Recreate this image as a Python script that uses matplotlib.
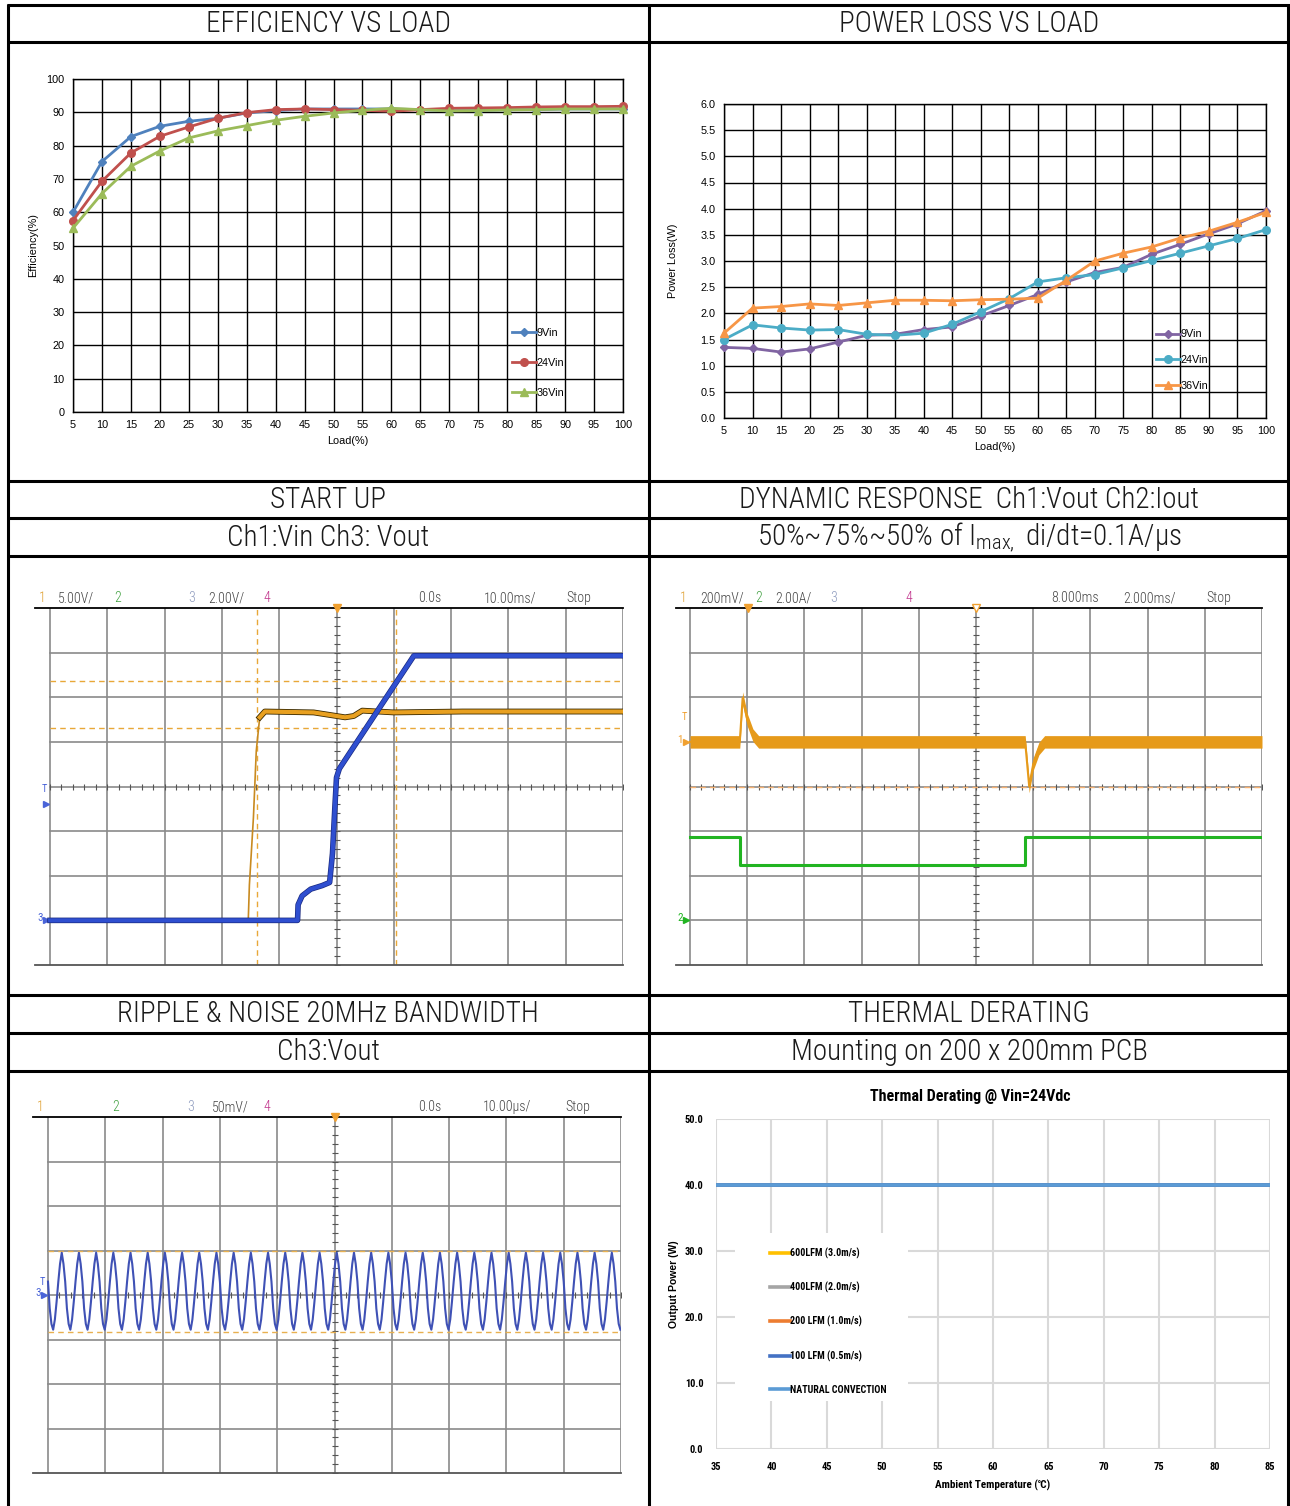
import numpy as np
import matplotlib
matplotlib.use("Agg")
import matplotlib.pyplot as plt
import matplotlib.patheffects as pe
from matplotlib.patches import Rectangle
from matplotlib import font_manager as fm

# ── fonts ─────────────────────────────────────────────────────────
_names = {f.name for f in fm.fontManager.ttflist}
NARROW = next((n for n in ["Roboto Condensed", "Liberation Sans Narrow",
                           "Open Sans Condensed", "DejaVu Sans"] if n in _names))
SANS = "Liberation Sans" if "Liberation Sans" in _names else "DejaVu Sans"
plt.rcParams["font.family"] = [SANS, "DejaVu Sans"]

# ── data: efficiency / power loss ─────────────────────────────────
LOAD = [5, 10, 15, 20, 25, 30, 35, 40, 45, 50, 55, 60, 65, 70, 75, 80, 85, 90, 95, 100]
EFF_9V = [60.0, 75.2, 82.7, 85.8, 87.3, 88.2, 89.8, 90.5, 91.0, 91.0,
          91.0, 91.0, 90.8, 90.5, 90.5, 90.8, 90.8, 91.0, 91.0, 91.0]
EFF_24V = [57.5, 69.3, 77.8, 82.8, 85.6, 88.2, 89.9, 90.8, 91.0, 90.8,
           90.6, 90.3, 90.8, 91.2, 91.3, 91.4, 91.6, 91.7, 91.7, 91.8]
EFF_36V = [55.2, 65.6, 73.8, 78.4, 82.3, 84.4, 86.0, 87.6, 88.8, 89.8,
           90.6, 91.2, 90.8, 90.4, 90.5, 90.7, 90.8, 91.0, 91.0, 91.0]
LOSS_9V = [1.35, 1.33, 1.26, 1.32, 1.45, 1.58, 1.60, 1.69, 1.74, 1.95,
           2.15, 2.36, 2.60, 2.78, 2.88, 3.13, 3.32, 3.52, 3.71, 3.96]
LOSS_24V = [1.50, 1.78, 1.72, 1.68, 1.69, 1.60, 1.58, 1.62, 1.79, 2.03,
            2.28, 2.60, 2.68, 2.74, 2.87, 3.01, 3.15, 3.29, 3.43, 3.60]
LOSS_36V = [1.62, 2.10, 2.13, 2.18, 2.15, 2.20, 2.25, 2.25, 2.24, 2.26,
            2.27, 2.29, 2.63, 3.00, 3.15, 3.27, 3.44, 3.57, 3.74, 3.93]

# ── data: scope traces (in screen divisions) ──────────────────────
VIN_X = [3.46, 3.48, 3.55, 3.60, 3.66, 3.75, 4.60, 5.00, 5.15, 5.30, 5.45, 6.00, 7.20, 10.0]
VIN_Y = [1.00, 1.80, 3.30, 4.80, 5.55, 5.68, 5.66, 5.58, 5.55, 5.58, 5.70, 5.66, 5.68, 5.68]
VOUT_X = [0.0, 4.32, 4.33, 4.40, 4.55, 4.75, 4.88, 4.93, 4.97, 5.00, 5.05, 6.35, 10.0]
VOUT_Y = [1.0, 1.00, 1.35, 1.55, 1.70, 1.78, 1.85, 2.50, 3.50, 4.20, 4.40, 6.93, 6.93]
SU_CURSOR_X = [3.62, 6.04]
SU_CURSOR_Y = [6.37, 5.31]

DYN_V_X = [0.0, 0.87, 0.92, 1.00, 1.10, 1.20, 5.86, 5.93, 6.00, 6.10, 6.20, 10.0]
DYN_V_Y = [5.0, 5.00, 5.98, 5.50, 5.15, 5.00, 5.00, 4.00, 4.50, 4.85, 5.00, 5.00]
DYN_I_X = [0.0, 0.87, 5.86, 10.0]
DYN_I_Y = [2.86, 2.23, 2.86, 2.86]
DYN_CURSOR_Y = [3.98]

RIPPLE_CYCLE = [0.30, -0.30, -0.65, -0.78, -0.55, -0.15, 0.30, 0.70, 0.95, 0.70]
RIPPLE_STEP = 0.03
RIPPLE_CYCLES = 34
RIPPLE_CURSOR_Y = [5.0, 3.16]

# ── data: thermal derating ────────────────────────────────────────
TEMP = [35, 85]
DERATE = {
    "600LFM (3.0m/s)": ([40, 40], "#FFC000"),
    "400LFM (2.0m/s)": ([40, 40], "#A5A5A5"),
    "200 LFM (1.0m/s)": ([40, 40], "#ED7D31"),
    "100 LFM (0.5m/s)": ([40, 40], "#4472C4"),
    "NATURAL CONVECTION": ([40, 40], "#5B9BD5"),
}

W, H = 1290, 1506
fig = plt.figure(figsize=(W / 100, H / 100), dpi=100)
fig.patch.set_facecolor("white")

bg = fig.add_axes([0, 0, 1, 1], zorder=0)
bg.set_xlim(0, W)
bg.set_ylim(H, 0)
bg.axis("off")


def px_axes(x0, y0, x1, y1):
    return fig.add_axes([x0 / W, 1 - y1 / H, (x1 - x0) / W, (y1 - y0) / H], zorder=2)


# ── table frame and headers ───────────────────────────────────────
for y in [5, 42, 481, 518, 556, 995, 1033, 1071]:
    bg.plot([7, W], [y, y], color="black", lw=2.2, solid_capstyle="butt")
for x in [8, 649, 1288]:
    bg.plot([x, x], [4, H], color="black", lw=2.2, solid_capstyle="butt")

TITLES = [
    (328, 24, "EFFICIENCY VS LOAD"), (969, 24, "POWER LOSS VS LOAD"),
    (328, 500, "START UP"), (969, 500, "DYNAMIC RESPONSE  Ch1:Vout Ch2:Iout"),
    (328, 538, "Ch1:Vin Ch3: Vout"),
    (969, 538, r"50%~75%~50% of I$\mathregular{_{max,}}$ di/dt=0.1A/µs"),
    (328, 1014, "RIPPLE & NOISE 20MHz BANDWIDTH"), (969, 1014, "THERMAL DERATING"),
    (328, 1052, "Ch3:Vout"), (969, 1052, "Mounting on 200 x 200mm PCB"),
]
for x, y, t in TITLES:
    bg.text(x, y, t, ha="center", va="center", fontsize=21, fontweight="light",
            family=[NARROW, "DejaVu Sans"], color="#1a1a1a")


# ── Excel-style line charts ───────────────────────────────────────
def excel_chart(ax, series, ylim, yticks, yfmt, ylabel, ylabelpad, legend_anchor, spacing):
    for vals, color, marker, ms, label in series:
        ax.plot(LOAD, vals, color=color, lw=2, marker=marker, ms=ms,
                label=label, zorder=3, clip_on=False)
    ax.set_xlim(5, 100)
    ax.set_ylim(*ylim)
    ax.set_xticks(LOAD)
    ax.set_yticks(yticks)
    ax.set_yticklabels([yfmt.format(v) for v in yticks])
    ax.grid(True, color="black", lw=1.0)
    for s in ax.spines.values():
        s.set_color("black")
        s.set_linewidth(1.0)
    ax.tick_params(length=0, labelsize=7.8, pad=6)
    ax.set_xlabel("Load(%)", fontsize=7.8, labelpad=4)
    ax.set_ylabel(ylabel, fontsize=7.8, labelpad=ylabelpad)
    ax.legend(loc="center left", bbox_to_anchor=legend_anchor, frameon=False,
              fontsize=7.8, handlelength=2.2, handletextpad=0.0,
              labelspacing=spacing, borderaxespad=0)


ax_eff = px_axes(73, 79, 623, 412)
excel_chart(ax_eff,
            [(EFF_9V, "#4F81BD", "D", 4.5, "9Vin"),
             (EFF_24V, "#C0504D", "o", 5.5, "24Vin"),
             (EFF_36V, "#9BBB59", "^", 6, "36Vin")],
            (0, 100), list(range(0, 101, 10)), "{:d}", "Efficiency(%)", 6,
            ((508 - 73) / 550, (412 - 363) / 333), 1.85)

ax_loss = px_axes(724, 104, 1266, 418)
excel_chart(ax_loss,
            [(LOSS_9V, "#8064A2", "D", 4.5, "9Vin"),
             (LOSS_24V, "#4BACC6", "o", 5.5, "24Vin"),
             (LOSS_36V, "#F79646", "^", 6, "36Vin")],
            (0, 6), [i * 0.5 for i in range(13)], "{:.1f}", "Power Loss(W)", 16,
            ((1152 - 724) / 542, (418 - 360) / 314), 1.45)


# ── oscilloscope screens ──────────────────────────────────────────
GRID_C = "#8a8a8a"


def scope(x0, y0, x1, y1, gx0):
    ax = px_axes(x0, y0, x1, y1)
    div = (x1 - gx0) / 10
    ax.set_xlim(-(gx0 - x0) / div, 10)
    ax.set_ylim(0, 8)
    ax.set_xticks([])
    ax.set_yticks([])
    for k in ["left", "right"]:
        ax.spines[k].set_visible(False)
    ax.spines["top"].set_color("black")
    ax.spines["top"].set_linewidth(1.3)
    ax.spines["bottom"].set_color("#555555")
    ax.spines["bottom"].set_linewidth(1.3)
    for gx in range(11):
        ax.plot([gx, gx], [0, 8], color=GRID_C, lw=1.2, zorder=1)
    for gy in range(1, 8):
        ax.plot([0, 10], [gy, gy], color=GRID_C, lw=1.2, zorder=1)
    tx = np.arange(0, 10.01, 0.2)
    ty = np.arange(0, 8.01, 0.2)
    ax.plot(tx, np.full_like(tx, 4), "|", color="#555555", ms=4, mew=0.8, zorder=1)
    ax.plot(np.full_like(ty, 5), ty, "_", color="#555555", ms=4, mew=0.8, zorder=1)
    return ax


def header(items, y):
    for x, t, c in items:
        bg.text(x, y, t, ha="left", va="center", fontsize=10, fontweight="light",
                family=[NARROW, "DejaVu Sans"], color=c)


def marker(ax, y, label, color, trig=None):
    ax.plot([-0.07], [y], ">", color=color, ms=4.5, clip_on=False, zorder=4)
    ax.text(-0.13, y + 0.05, label, color=color, fontsize=8, ha="right", va="center",
            family=[NARROW, "DejaVu Sans"])
    if trig is not None:
        ax.text(-0.1, trig, "T", color=color, fontsize=7.5, ha="center", va="center",
                family=[NARROW, "DejaVu Sans"])


C1, C2, C3, C4, CT = "#e0a030", "#3fa03f", "#8f9cbf", "#c0308a", "#444444"

# start up
ax_su = scope(35, 608, 623, 965, 50)
for cx in SU_CURSOR_X:
    ax_su.axvline(cx, color="#e8a838", lw=1, ls=(0, (4, 3)), zorder=2)
for cy in SU_CURSOR_Y:
    ax_su.plot([0, 10], [cy, cy], color="#e8a838", lw=1, ls=(0, (4, 3)), zorder=2)
ax_su.plot(VOUT_X, VOUT_Y, color="#2f4fd0", lw=3.0, zorder=5,
           path_effects=[pe.withStroke(linewidth=4.0, foreground="#1a2a80")])
ax_su.plot(VIN_X[:5], VIN_Y[:5], color="#c88a20", lw=1.2, zorder=4)
ax_su.plot(VIN_X[4:], VIN_Y[4:], color="#e8a020", lw=3, zorder=4,
           path_effects=[pe.withStroke(linewidth=4.2, foreground="#3a2a00")])
ax_su.plot([5], [8], "v", color="#f0a030", ms=6, clip_on=False, zorder=6)
marker(ax_su, 1.0, "3", "#4a64d8")
marker(ax_su, 3.6, "", "#4a64d8", trig=3.95)
header([(39, "1", C1), (58, "5.00V/", CT), (114, "2", C2), (188, "3", C3),
        (208, "2.00V/", CT), (264, "4", C4), (418, "0.0s", CT),
        (484, "10.00ms/", CT), (566, "Stop", CT)], 598)

# dynamic response
ax_dy = scope(676, 608, 1262, 965, 690)
for cy in DYN_CURSOR_Y:
    ax_dy.plot([0, 10], [cy, cy], color="#f5b070", lw=1, ls=(0, (4, 3)), zorder=2)
vy = np.array(DYN_V_Y)
ax_dy.fill_between(DYN_V_X, vy - 0.14, vy + 0.14, color="#e69a1a", lw=0, zorder=4)
ax_dy.plot(DYN_V_X, DYN_V_Y, color="#e69a1a", lw=1.5, zorder=4)
ax_dy.plot(DYN_I_X, DYN_I_Y, color="#22b422", lw=2.2, drawstyle="steps-post", zorder=4)
ax_dy.plot([1.02], [8], "v", color="#f0a030", ms=6, clip_on=False, zorder=6)
ax_dy.plot([5], [8], "v", mfc="white", mec="#f0a030", ms=6, clip_on=False, zorder=6)
marker(ax_dy, 5.0, "1", "#f0a030", trig=5.55)
marker(ax_dy, 1.0, "2", "#22b422")
header([(680, "1", C1), (700, "200mV/", CT), (755, "2", C2), (775, "2.00A/", CT),
        (830, "3", C3), (905, "4", C4), (1051, "8.000ms", CT),
        (1123, "2.000ms/", CT), (1206, "Stop", CT)], 598)

# ripple & noise
ax_rp = scope(33, 1117, 621, 1473, 48)
for cy in RIPPLE_CURSOR_Y:
    ax_rp.plot([0, 10], [cy, cy], color="#e8b050", lw=1, ls=(0, (4, 3)), zorder=2)
rip = np.tile(RIPPLE_CYCLE, RIPPLE_CYCLES) + 4.0
rx = np.arange(len(rip)) * RIPPLE_STEP
keep = rx <= 10
ax_rp.plot(rx[keep], rip[keep], color="#3f51b5", lw=1.5, zorder=4)
ax_rp.plot([5], [8], "v", color="#f0a030", ms=6, clip_on=False, zorder=6)
marker(ax_rp, 4.0, "3", "#4a64d8", trig=4.3)
header([(37, "1", C1), (112, "2", C2), (187, "3", C3), (212, "50mV/", CT),
        (263, "4", C4), (418, "0.0s", CT), (483, "10.00µs/", CT),
        (565, "Stop", CT)], 1107)

# ── thermal derating ──────────────────────────────────────────────
TH_X0, TH_Y0, TH_X1, TH_Y1 = 716, 1119, 1270, 1449
ax_th = px_axes(TH_X0, TH_Y0, TH_X1, TH_Y1)
for label, (vals, color) in DERATE.items():
    ax_th.plot(TEMP, vals, color=color, lw=2.6, label=label, zorder=2)
ax_th.set_xlim(35, 85)
ax_th.set_ylim(0, 50)
ax_th.set_xticks(range(35, 86, 5))
ax_th.set_yticks(range(0, 51, 10))
ax_th.set_yticklabels([f"{v:.1f}" for v in range(0, 51, 10)])
ax_th.grid(True, color="#d9d9d9", lw=1.5)
ax_th.set_axisbelow(True)
for s in ax_th.spines.values():
    s.set_visible(False)
ax_th.tick_params(length=0, labelsize=7.5, pad=9)
for t in ax_th.get_xticklabels() + ax_th.get_yticklabels():
    t.set_fontweight("bold")
    t.set_family([NARROW, "DejaVu Sans"])
ax_th.set_xlabel("Ambient Temperature (℃)", fontsize=8, fontweight="bold",
                 labelpad=6, family=[NARROW, "DejaVu Sans"])
ax_th.set_ylabel("Output Power (W)", fontsize=7.5, fontweight="bold", labelpad=4)
bg.text(970, 1097, "Thermal Derating @ Vin=24Vdc", ha="center", va="center",
        fontsize=11.5, fontweight="bold", family=[NARROW, "DejaVu Sans"])

# white legend box hiding the grid, as in the Excel chart
tw, th = TH_X1 - TH_X0, TH_Y1 - TH_Y0
ax_th.add_patch(Rectangle(((735 - TH_X0) / tw, (TH_Y1 - 1401) / th),
                          (908 - 735) / tw, (1401 - 1233) / th,
                          transform=ax_th.transAxes, facecolor="white",
                          edgecolor="none", zorder=1))
leg = ax_th.legend(loc="center left",
                   bbox_to_anchor=((770 - TH_X0) / tw, (TH_Y1 - 1321) / th),
                   frameon=False, fontsize=7.2, handlelength=2.0, handletextpad=0.0,
                   labelspacing=2.3, borderaxespad=0, borderpad=0)
for t in leg.get_texts():
    t.set_fontweight("bold")
    t.set_family([NARROW, "DejaVu Sans"])

fig.savefig("out.png", dpi=100, facecolor="white")
